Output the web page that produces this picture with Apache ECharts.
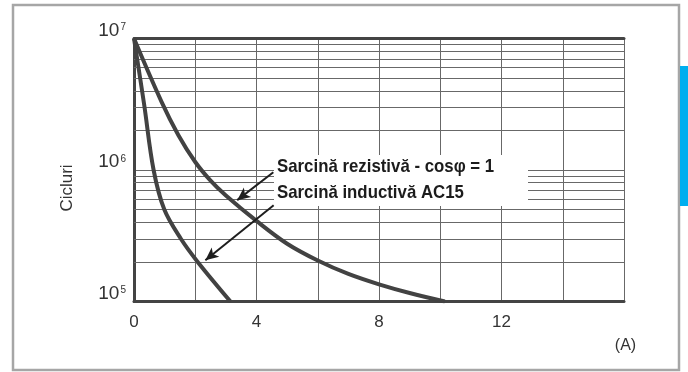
<!DOCTYPE html>
<html><head><meta charset="utf-8">
<script src="https://cdn.jsdelivr.net/npm/echarts@6/dist/echarts.min.js"></script>
<style>html,body{margin:0;padding:0;background:#fff}#c{width:688px;height:372px}</style>
</head><body><div id="c"></div>
<script>
// ---- data ----
const xTickLabels = [0, 4, 8, 12];
const resistiveX = [0, 0.9, 1.45, 2.0, 2.5, 3.0, 4.0, 5.0, 6.0, 7.0, 8.0, 9.0, 10.15];
const resistiveY = [1e7, 3.3e6, 1.84e6, 1.15e6, 8.3e5, 6.4e5, 4.1e5, 2.75e5, 2.05e5, 1.62e5, 1.35e5, 1.16e5, 1.0e5];
const inductiveX = [0, 0.33, 0.64, 0.99, 1.53, 2.08, 3.15];
const inductiveY = [1e7, 3.16e6, 1.0e6, 5.0e5, 3.0e5, 2.0e5, 1.0e5];
const minorGridValues = [2e5, 3e5, 4e5, 5e5, 6e5, 7e5, 8e5, 9e5, 2e6, 3e6, 4e6, 5e6, 6e6, 7e6, 8e6, 9e6];
const labelResistive = 'Sarcină rezistivă - cosφ = 1';
const labelInductive = 'Sarcină inductivă AC15';
const yAxisName = 'Cicluri';
const xAxisName = '(A)';
const arrowResistive = [[4.55, 9.6e5], [3.37, 5.9e5]];
const arrowInductive = [[4.56, 5.4e5], [2.33, 2.06e5]];

const pair = (xs, ys) => xs.map((x, i) => [x, ys[i]]);
const FONT = 'Liberation Sans, Arial, sans-serif';
const GRID = '#686868';
const BORDER = '#444444';

const chart = echarts.init(document.getElementById('c'), null, {renderer: 'canvas'});
chart.setOption({
  animation: false,
  grid: {left: 134, right: 64, top: 38.5, bottom: 70.5},
  xAxis: [{
    type: 'value', min: 0, max: 16, interval: 2,
    axisLine: {show: true, onZero: false, lineStyle: {color: BORDER, width: 3}},
    axisTick: {show: false},
    splitLine: {show: true, lineStyle: {color: GRID, width: 1}},
    axisLabel: {
      margin: 12, fontSize: 17, fontFamily: FONT, color: '#333',
      formatter: v => xTickLabels.includes(v) ? String(v) : ''
    }
  }, {
    type: 'value', min: 0, max: 16, position: 'top',
    axisLine: {show: true, lineStyle: {color: BORDER, width: 3}},
    axisTick: {show: false}, axisLabel: {show: false}, splitLine: {show: false}
  }],
  yAxis: [{
    type: 'log', logBase: 10, min: 1e5, max: 1e7,
    axisLine: {show: true, onZero: false, lineStyle: {color: BORDER, width: 3}},
    axisTick: {show: false},
    splitLine: {show: true, lineStyle: {color: GRID, width: 1}},
    axisLabel: {
      margin: 8, verticalAlign: 'bottom', color: '#333',
      formatter: v => '{b|10}{s|' + Math.round(Math.log10(v)) + '}',
      rich: {
        b: {fontSize: 19, fontFamily: FONT, color: '#333', lineHeight: 16},
        s: {fontSize: 10, fontFamily: FONT, color: '#333', verticalAlign: 'top', lineHeight: 16, padding: [0, 0, 0, 1]}
      }
    }
  }, {
    type: 'log', logBase: 10, min: 1e5, max: 1e7, position: 'right',
    axisLine: {show: true, lineStyle: {color: BORDER, width: 3}},
    axisTick: {show: false}, axisLabel: {show: false}, splitLine: {show: false}
  }],
  series: [
    {
      type: 'line', data: [], z: 1, silent: true,
      markLine: {
        z: 1, silent: true, symbol: ['none', 'none'], label: {show: false},
        lineStyle: {color: GRID, width: 1, type: 'solid'},
        emphasis: {disabled: true},
        data: minorGridValues.map(v => ({yAxis: v}))
      }
    },
    {
      type: 'line', data: pair(resistiveX, resistiveY), smooth: 0.35, showSymbol: false, z: 3,
      lineStyle: {color: '#424242', width: 4}
    },
    {
      type: 'line', data: pair(inductiveX, inductiveY), smooth: 0.35, showSymbol: false, z: 3,
      lineStyle: {color: '#424242', width: 4},
      markLine: {
        z: 5, silent: true, symbol: ['none', 'arrow'], symbolSize: [9, 13], label: {show: false},
        lineStyle: {color: '#1e1e1e', width: 2, type: 'solid'},
        emphasis: {disabled: true},
        data: [
          [{coord: arrowResistive[0]}, {coord: arrowResistive[1]}],
          [{coord: arrowInductive[0]}, {coord: arrowInductive[1]}]
        ]
      }
    }
  ],
  graphic: [
    {type: 'rect', z: 0, shape: {x: 13, y: 5, width: 666, height: 365},
     style: {fill: 'none', stroke: '#a6a6a6', lineWidth: 2.5}},
    {type: 'rect', z: 7, shape: {x: 680, y: 66, width: 8, height: 140}, style: {fill: '#00aeef'}},
    {type: 'rect', z: 4, shape: {x: 274, y: 155, width: 254, height: 51}, style: {fill: '#fff'}},
    {type: 'text', z: 6, x: 277, y: 166.5, scaleX: 0.885,
     style: {text: labelResistive, font: 'bold 19px ' + FONT, fill: '#1c1c1c', align: 'left', verticalAlign: 'middle'}},
    {type: 'text', z: 6, x: 277, y: 193, scaleX: 0.885,
     style: {text: labelInductive, font: 'bold 19px ' + FONT, fill: '#1c1c1c', align: 'left', verticalAlign: 'middle'}},
    {type: 'text', z: 6, x: 625.5, y: 345.5,
     style: {text: xAxisName, font: '16px ' + FONT, fill: '#333', align: 'center', verticalAlign: 'middle'}},
    {type: 'text', z: 6, x: 67.5, y: 188, rotation: Math.PI / 2,
     style: {text: yAxisName, font: '17px ' + FONT, fill: '#333', align: 'center', verticalAlign: 'middle'}}
  ]
});
</script>
</body></html>
